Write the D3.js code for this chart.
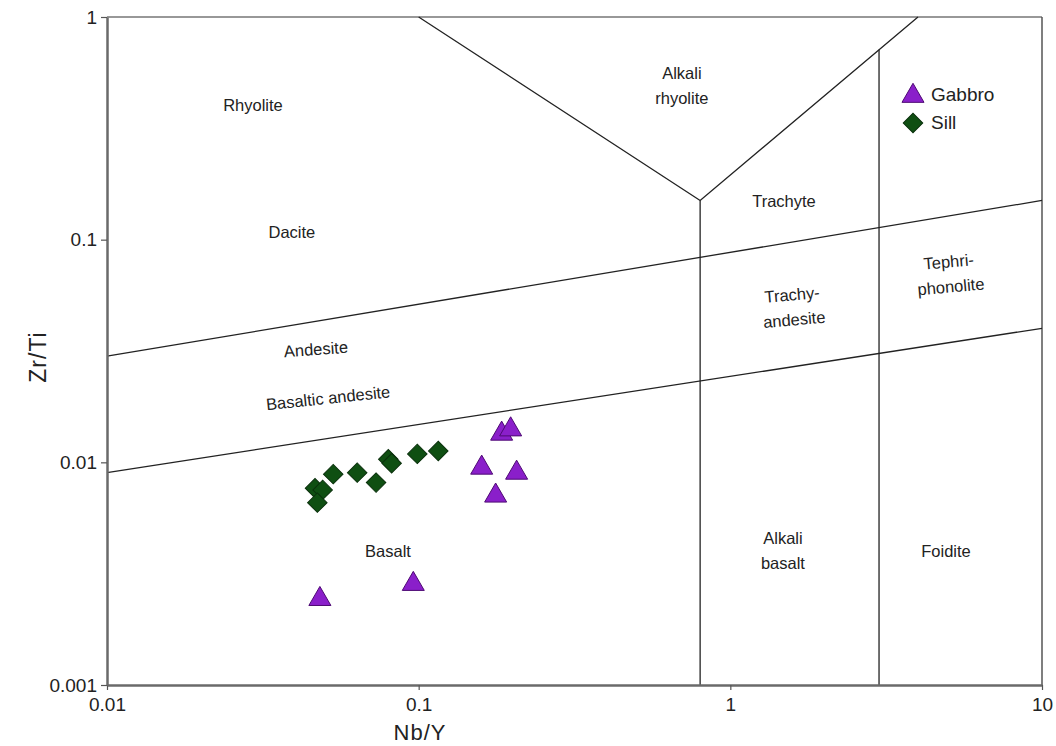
<!DOCTYPE html>
<html>
<head>
<meta charset="utf-8">
<script src="https://cdn.jsdelivr.net/npm/d3@7"></script>
<style>
  html, body { margin: 0; padding: 0; background: #fff; }
  svg { display: block; font-family: "Liberation Sans", Arial, sans-serif; }
</style>
</head>
<body>
<svg id="chart" width="1056" height="746"></svg>
<script>
// Nb/Y vs Zr/Ti classification (Pearce 1996 after Winchester & Floyd)

// Sample compositions: [Nb/Y, Zr/Ti]
const gabbroNbY = [0.1846, 0.1973, 0.1593, 0.2062, 0.1766, 0.0482, 0.0961];
const gabbroZrTi = [0.01343, 0.01404, 0.00945, 0.00897, 0.00708, 0.00243, 0.00284];

const sillNbY = [0.0465, 0.0492, 0.0532, 0.0635, 0.0730, 0.0799, 0.0819, 0.0990, 0.1156, 0.0473];
const sillZrTi = [0.00765, 0.00752, 0.00885, 0.00899, 0.00811, 0.01032, 0.00991, 0.01091, 0.01125, 0.00659];

// Field boundaries, each a polyline of [Nb/Y, Zr/Ti] vertices
const boundaries = [
  [[0.01, 0.03], [10, 0.15]],
  [[0.01, 0.009], [10, 0.04]],
  [[0.8, 0.001], [0.8, 0.15]],
  [[0.1, 1], [0.8, 0.15], [4, 1]],
  [[3, 0.001], [3, 0.713]]
];

// Field names with their anchor in data units and text tilt (deg)
const fieldNames = [
  ["Rhyolite"],
  ["Dacite"],
  ["Andesite"],
  ["Basaltic andesite"],
  ["Alkali", "rhyolite"],
  ["Trachyte"],
  ["Trachy-", "andesite"],
  ["Tephri-", "phonolite"],
  ["Basalt"],
  ["Alkali", "basalt"],
  ["Foidite"]
];
const fieldNbY  = [0.0294, 0.0392, 0.0468, 0.0512, 0.699, 1.486, 1.59, 5.06, 0.0797, 1.475, 4.92];
const fieldZrTi = [0.403, 0.1083, 0.0323, 0.0195, 0.495, 0.149, 0.0499, 0.0702, 0.0040, 0.0040, 0.0040];
const fieldTilt = [0, 0, -4, -6, 0, 0, -5, -5, 0, 0, 0];

const xTicks = [0.01, 0.1, 1, 10];
const yTicks = [0.001, 0.01, 0.1, 1];
const xTickLabels = ["0.01", "0.1", "1", "10"];
const yTickLabels = ["0.001", "0.01", "0.1", "1"];

const seriesNames = ["Gabbro", "Sill"];

const svg = d3.select("#chart");
const plotL = 107, plotR = 1042, plotT = 17, plotB = 685;

const x = d3.scaleLog().domain([0.01, 10]).range([plotL, plotR]);
const y = d3.scaleLog().domain([0.001, 1]).range([plotB, plotT]);

// frame
svg.append("line").attr("x1", plotL).attr("x2", plotR).attr("y1", plotT).attr("y2", plotT)
  .attr("stroke", "#333").attr("stroke-width", 1.2);
svg.append("line").attr("x1", plotR).attr("x2", plotR).attr("y1", plotT).attr("y2", plotB)
  .attr("stroke", "#555").attr("stroke-width", 1.5);

// field boundaries
const line = d3.line().x(d => x(d[0])).y(d => y(d[1]));
svg.append("g").selectAll("path").data(boundaries).join("path")
  .attr("d", line).attr("fill", "none").attr("stroke", "#222").attr("stroke-width", 1.3);

// axes
const xAxis = d3.axisBottom(x).tickValues(xTicks).tickFormat((d, i) => xTickLabels[i])
  .tickSizeInner(5).tickSizeOuter(0).tickPadding(8);
const yAxis = d3.axisLeft(y).tickValues(yTicks).tickFormat((d, i) => yTickLabels[i])
  .tickSizeInner(6).tickSizeOuter(0).tickPadding(4);

const gx = svg.append("g").attr("transform", `translate(0,${plotB})`).call(xAxis);
const gy = svg.append("g").attr("transform", `translate(${plotL},0)`).call(yAxis);
[gx, gy].forEach(g => {
  g.select(".domain").attr("stroke", "#6a6a6a").attr("stroke-width", 2.5);
  g.selectAll(".tick line").attr("stroke", "#555").attr("stroke-width", 1.2);
  g.selectAll(".tick text").attr("fill", "#222").style("font-size", "19px")
    .style("font-family", "'Liberation Sans', Arial, sans-serif");
});

// axis titles
svg.append("text").attr("x", 420).attr("y", 740)
  .attr("text-anchor", "middle").attr("fill", "#222").style("font-size", "22px")
  .style("letter-spacing", "1px").text("Nb/Y");
svg.append("text").attr("transform", `translate(46,${(plotT + plotB) / 2 + 6})rotate(-90)`)
  .attr("text-anchor", "middle").attr("fill", "#222").style("font-size", "23px")
  .style("letter-spacing", "1px").text("Zr/Ti");

// field names
const lab = svg.append("g").attr("fill", "#222").style("font-size", "16.5px");
fieldNames.forEach((lines, i) => {
  const cx = x(fieldNbY[i]), cy = y(fieldZrTi[i]);
  const t = lab.append("text")
    .attr("transform", `translate(${cx},${cy})rotate(${fieldTilt[i]})`)
    .attr("text-anchor", "middle");
  const n = lines.length;
  lines.forEach((s, j) => {
    t.append("tspan").attr("x", 0)
      .attr("y", (j - (n - 1) / 2) * 25 + 6)
      .text(s);
  });
});

// samples
const triangle = d3.symbol().type(d3.symbolTriangle).size(210);
const diamond = d3.symbol().type(d3.symbolSquare).size(190);

const sill = sillNbY.map((v, i) => [v, sillZrTi[i]]);
const gabbro = gabbroNbY.map((v, i) => [v, gabbroZrTi[i]]);

svg.append("g").selectAll("path").data(sill).join("path")
  .attr("d", diamond)
  .attr("transform", d => `translate(${x(d[0])},${y(d[1])})rotate(45)`)
  .attr("fill", "#0f4f12").attr("stroke", "#0a300c").attr("stroke-width", 1);

svg.append("g").selectAll("path").data(gabbro).join("path")
  .attr("d", triangle)
  .attr("transform", d => `translate(${x(d[0])},${y(d[1])})`)
  .attr("fill", "#8a1fca").attr("stroke", "#4e0a74").attr("stroke-width", 1);

// legend
const leg = svg.append("g").attr("transform", "translate(913,0)");
leg.append("path").attr("d", triangle).attr("transform", "translate(0,96)")
  .attr("fill", "#8a1fca").attr("stroke", "#4e0a74").attr("stroke-width", 1);
leg.append("path").attr("d", diamond).attr("transform", "translate(0,123)rotate(45)")
  .attr("fill", "#0f4f12").attr("stroke", "#0a300c").attr("stroke-width", 1);
leg.selectAll("text").data(seriesNames).join("text")
  .attr("x", 18).attr("y", (d, i) => 101 + i * 28)
  .attr("fill", "#222").style("font-size", "19px").text(d => d);
</script>
</body>
</html>
